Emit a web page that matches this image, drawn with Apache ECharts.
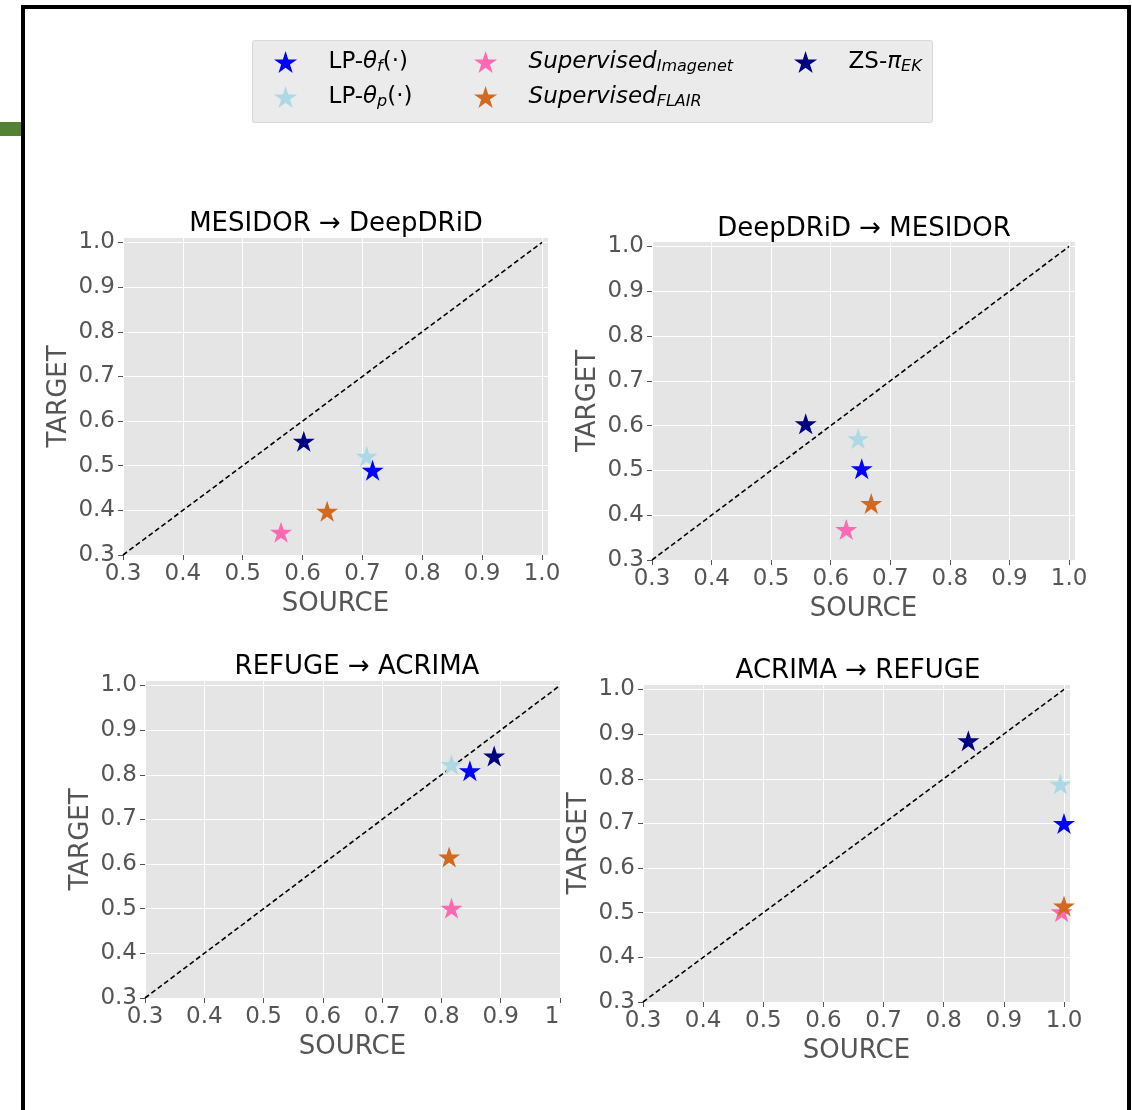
<!DOCTYPE html>
<html>
<head>
<meta charset="utf-8">
<script src="https://cdn.jsdelivr.net/npm/echarts@6/dist/echarts.min.js"></script>
<style>
html,body{margin:0;padding:0;background:#fff;}
#chart{width:1132px;height:1110px;}
</style>
</head>
<body>
<div id="chart"></div>
<script>
// ---- data ----
const methods = ['LP-θf(·)', 'LP-θp(·)', 'Supervised_Imagenet', 'Supervised_FLAIR', 'ZS-πEK'];
const panelTitles = ['MESIDOR → DeepDRiD', 'DeepDRiD → MESIDOR', 'REFUGE → ACRIMA', 'ACRIMA → REFUGE'];
const sourceLPf = [0.717, 0.652, 0.848, 1.000];
const targetLPf = [0.490, 0.504, 0.809, 0.700];
const sourceLPp = [0.707, 0.646, 0.817, 0.994];
const targetLPp = [0.521, 0.571, 0.823, 0.788];
const sourceImagenet = [0.564, 0.626, 0.817, 0.996];
const targetImagenet = [0.351, 0.368, 0.501, 0.502];
const sourceFLAIR = [0.641, 0.668, 0.813, 1.000];
const targetFLAIR = [0.398, 0.426, 0.616, 0.515];
const sourceZS = [0.602, 0.558, 0.889, 0.841];
const targetZS = [0.555, 0.604, 0.842, 0.885];
const tickValues = [0.3, 0.4, 0.5, 0.6, 0.7, 0.8, 0.9, 1.0];
const diagonal = [[0.3, 0.3], [1.0, 1.0]];

// ---- styling ----
const FONT = 'DejaVu Sans';
const colors = {
  'LP-θf(·)': '#0000FF',
  'LP-θp(·)': '#ADD8E6',
  'Supervised_Imagenet': '#FF69B4',
  'Supervised_FLAIR': '#D2691E',
  'ZS-πEK': '#000080'
};
const methodData = {
  'LP-θf(·)': [sourceLPf, targetLPf],
  'LP-θp(·)': [sourceLPp, targetLPp],
  'Supervised_Imagenet': [sourceImagenet, targetImagenet],
  'Supervised_FLAIR': [sourceFLAIR, targetFLAIR],
  'ZS-πEK': [sourceZS, targetZS]
};
const drawOrder = ['LP-θp(·)', 'LP-θf(·)', 'Supervised_Imagenet', 'Supervised_FLAIR', 'ZS-πEK'];

function starPath() {
  const pts = [];
  for (let i = 0; i < 10; i++) {
    const r = i % 2 === 0 ? 1 : 0.382;
    const a = -Math.PI / 2 + i * Math.PI / 5;
    pts.push([r * Math.cos(a) * 100, r * Math.sin(a) * 100]);
  }
  return 'path://M' + pts.map(p => p[0].toFixed(2) + ',' + p[1].toFixed(2)).join('L') + 'Z';
}
const STAR = starPath();

const grids = [
  {left: 123, top: 238, width: 425, height: 317},
  {left: 652, top: 242, width: 423, height: 318},
  {left: 145, top: 681, width: 415, height: 317},
  {left: 643, top: 685, width: 427, height: 317}
];
const xMax = [1.01, 1.01, 1.0, 1.01];
const yMax = [1.01, 1.01, 1.01, 1.01];
const titlePos = [[336, 224], [864, 229], [357, 667], [858, 671]];

const axisCommon = {
  type: 'value',
  min: 0.3,
  interval: 0.1,
  nameLocation: 'middle',
  nameTextStyle: {color: '#555555', fontSize: 26, fontFamily: FONT},
  axisLine: {show: false},
  axisTick: {show: true, length: 5, customValues: tickValues, lineStyle: {color: '#555555', width: 1}},
  splitLine: {show: true, lineStyle: {color: '#FFFFFF', width: 1}}
};

const xAxes = [], yAxes = [], series = [];
grids.forEach((g, i) => {
  xAxes.push(Object.assign({}, axisCommon, {
    gridIndex: i, max: xMax[i], name: 'SOURCE', nameGap: 36,
    axisLabel: {
      color: '#555555', fontSize: 23, fontFamily: FONT, margin: 8, customValues: tickValues,
      formatter: v => (i === 2 && Math.abs(v - 1) < 1e-6) ? '{s|1}' : v.toFixed(1),
      rich: {s: {color: '#555555', fontSize: 23, fontFamily: FONT, padding: [0, 16, 0, 0]}}
    }
  }));
  yAxes.push(Object.assign({}, axisCommon, {
    gridIndex: i, max: yMax[i], name: 'TARGET', nameGap: 51, nameRotate: 90,
    axisLabel: {
      color: '#555555', fontSize: 23, fontFamily: FONT, margin: 8, customValues: tickValues,
      formatter: v => v.toFixed(1)
    }
  }));
  series.push({
    type: 'line', xAxisIndex: i, yAxisIndex: i, data: diagonal, symbol: 'none',
    silent: true, legendHoverLink: false,
    lineStyle: {color: '#000000', width: 1.6, type: [5, 3]}, z: 1
  });
  drawOrder.forEach(m => {
    const d = methodData[m];
    series.push({
      type: 'scatter', name: m, xAxisIndex: i, yAxisIndex: i, clip: false,
      symbol: STAR, symbolSize: [22, 21],
      itemStyle: {color: colors[m], opacity: 1},
      data: [[d[0][i], d[1][i]]], z: 3
    });
  });
});

const rich = {
  n: {fontSize: 23, fontFamily: FONT, color: '#000', lineHeight: 28},
  it: {fontSize: 23, fontFamily: FONT, fontStyle: 'italic', color: '#000', lineHeight: 28},
  sub: {fontSize: 16, fontFamily: FONT, fontStyle: 'italic', color: '#000', lineHeight: 18, padding: [10, 0, 0, 0]}
};
const legendLabel = {
  'LP-θf(·)': '{n|LP-}{it|θ}{sub|f}{n|(·)}',
  'LP-θp(·)': '{n|LP-}{it|θ}{sub|p}{n|(·)}',
  'Supervised_Imagenet': '{it|Supervised}{sub|Imagenet}',
  'Supervised_FLAIR': '{it|Supervised}{sub|FLAIR}',
  'ZS-πEK': '{n|ZS-}{it|π}{sub|EK}'
};
function mkLegend(left, names) {
  return {
    orient: 'vertical', left: left, top: 44, itemGap: 9,
    itemWidth: 76, itemHeight: 22, icon: STAR, symbolKeepAspect: true,
    data: names, selectedMode: false,
    formatter: nm => legendLabel[nm],
    textStyle: {rich: rich, fontSize: 23, fontFamily: FONT, color: '#000'}
  };
}

const graphics = [
  {type: 'rect', shape: {x: 0, y: 122, width: 22, height: 14}, style: {fill: '#548235'}, z: 0},
  {type: 'rect', shape: {x: 23, y: 7, width: 1106, height: 1300}, style: {fill: 'none', stroke: '#000', lineWidth: 4}, z: 0},
  {type: 'rect', shape: {x: 252.5, y: 40.5, width: 680, height: 82, r: 2}, style: {fill: '#EBEBEB', stroke: '#D8D8D8', lineWidth: 1}, z: 0}
];
panelTitles.forEach((t, i) => {
  graphics.push({
    type: 'text', x: titlePos[i][0], y: titlePos[i][1], z: 10,
    style: {text: t, font: '26px "DejaVu Sans"', fill: '#000', align: 'center', verticalAlign: 'middle', textAlign: 'center', textVerticalAlign: 'middle'}
  });
});

const chart = echarts.init(document.getElementById('chart'), null, {renderer: 'canvas'});
chart.setOption({
  backgroundColor: '#FFFFFF',
  animation: false,
  textStyle: {fontFamily: FONT},
  grid: grids.map(g => Object.assign({show: true, backgroundColor: '#E5E5E5', borderWidth: 0}, g)),
  xAxis: xAxes,
  yAxis: yAxes,
  legend: [
    mkLegend(269, ['LP-θf(·)', 'LP-θp(·)']),
    mkLegend(469, ['Supervised_Imagenet', 'Supervised_FLAIR']),
    mkLegend(789, ['ZS-πEK'])
  ],
  graphic: graphics,
  series: series
});
</script>
</body>
</html>
